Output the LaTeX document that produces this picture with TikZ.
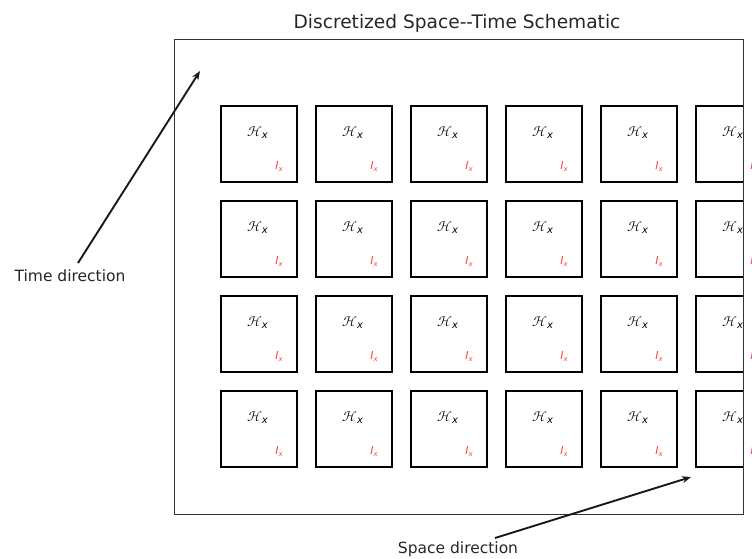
\documentclass[tikz,border=0pt]{standalone}
\usepackage{fontspec}
\setmainfont{DejaVu Sans}
\usepackage{unicode-math}
\setmathfont{Latin Modern Math}
\usetikzlibrary{arrows.meta}
\begin{document}
\begin{tikzpicture}[x=1pt,y=-1pt,
  cell/.style={draw=black,line width=2.4pt,minimum width=76pt,minimum height=76pt,inner sep=0pt,anchor=north west},
  hlabel/.style={font=\fontsize{14}{14}\selectfont,text=black,inner sep=0pt},
  ilabel/.style={font=\fontsize{11}{11}\selectfont,text=red!75,inner sep=0pt},
  lbl/.style={font=\fontsize{15.5}{16}\selectfont,text=black!85,inner sep=0pt},
  dirarrow/.style={-{Stealth[length=9pt,width=7pt]},line width=1.9pt,black!90}]
\useasboundingbox (0,0) rectangle (752,559);
\node[font=\fontsize{18.6}{19}\selectfont,text=black!85,inner sep=0pt] (title) at (457,23) {Discretized Space-\kern0pt-Time Schematic};
\coordinate (frNW) at (174,40);
\coordinate (frSE) at (743,514);
\begin{scope}
\clip (frNW) rectangle (frSE);
\foreach \i in {0,...,5}{
  \foreach \j in {0,...,3}{
    \node[cell] (c\i\j) at ({220+95*\i},{105+95*\j}) {};
  }
}
\end{scope}
\begin{scope}
\clip (0,0) rectangle (752,559);
\foreach \i in {0,...,5}{
  \foreach \j in {0,...,3}{
    \node[hlabel] (h\i\j) at ({257.5+95*\i},{132.5+95*\j}) {$\mathcal{H}$\raisebox{-2.5pt}{\fontsize{10}{10}\selectfont\itshape x}};
    \node[ilabel] (l\i\j) at ({279+95*\i},{166+95*\j}) {\itshape I\raisebox{-2pt}{\fontsize{7}{7}\selectfont x}};
  }
}
\end{scope}
\draw[black!80,line width=1pt] (frNW) rectangle (frSE);
\node[lbl] (time) at (70,275.5) {Time direction};
\coordinate (timeTip) at (200,71);
\coordinate (timeTail) at (78,263);
\draw[dirarrow] (timeTail) -- (timeTip);
\node[lbl] (space) at (458,549) {Space direction};
\coordinate (spaceTip) at (691,477);
\coordinate (spaceTail) at (495,538);
\draw[dirarrow] (spaceTail) -- (spaceTip);
\end{tikzpicture}
\end{document}
